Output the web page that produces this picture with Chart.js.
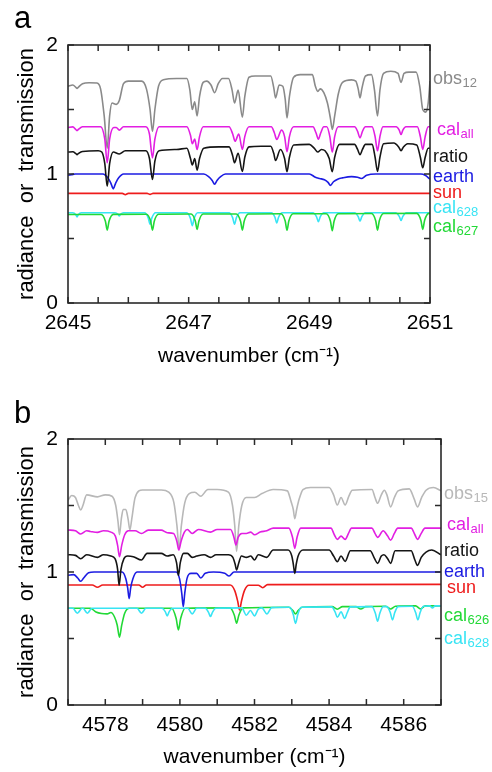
<!DOCTYPE html>
<html><head><meta charset="utf-8">
<script src="https://cdn.jsdelivr.net/npm/chart.js@4.4.1/dist/chart.umd.min.js"></script>
<style>
html,body{margin:0;padding:0;background:#fff;width:492px;height:772px;overflow:hidden}
.panel{position:absolute;left:0;width:492px}
#pa{top:0;height:385px}
#pb{top:385px;height:387px}
canvas{display:block}
</style></head><body>
<div class="panel" id="pa"><canvas id="ca" width="492" height="385"></canvas></div>
<div class="panel" id="pb"><canvas id="cb" width="492" height="387"></canvas></div>
<script>
// ---------- Panel a data: [wavenumber, value] ----------
const obs12 = [[2645,1.68],[2645.08,1.69],[2645.13,1.672],[2645.15,1.663],[2645.17,1.672],[2645.24,1.70],[2645.35,1.707],[2645.48,1.705],[2645.54,1.66],[2645.6,1.45],[2645.65,1.2],[2645.69,1.45],[2645.73,1.55],[2645.8,1.54],[2645.85,1.57],[2645.92,1.7],[2646.0,1.72],[2646.22,1.72],[2646.3,1.66],[2646.36,1.5],[2646.4,1.33],[2646.44,1.5],[2646.5,1.68],[2646.58,1.73],[2646.8,1.74],[2646.97,1.74],[2647.02,1.65],[2647.06,1.5],[2647.1,1.56],[2647.14,1.45],[2647.18,1.6],[2647.24,1.71],[2647.3,1.72],[2647.37,1.69],[2647.43,1.63],[2647.49,1.7],[2647.56,1.74],[2647.66,1.74],[2647.72,1.65],[2647.76,1.55],[2647.82,1.65],[2647.89,1.44],[2647.93,1.6],[2648.0,1.75],[2648.1,1.76],[2648.36,1.76],[2648.41,1.67],[2648.44,1.59],[2648.5,1.69],[2648.56,1.68],[2648.6,1.58],[2648.63,1.435],[2648.67,1.6],[2648.74,1.75],[2648.85,1.77],[2649.05,1.77],[2649.1,1.68],[2649.14,1.64],[2649.18,1.66],[2649.24,1.63],[2649.3,1.55],[2649.35,1.43],[2649.38,1.345],[2649.42,1.45],[2649.48,1.62],[2649.55,1.71],[2649.7,1.73],[2649.77,1.72],[2649.81,1.66],[2649.84,1.59],[2649.87,1.66],[2649.93,1.76],[2650.03,1.77],[2650.08,1.65],[2650.13,1.45],[2650.17,1.65],[2650.23,1.78],[2650.35,1.797],[2650.47,1.78],[2650.52,1.71],[2650.57,1.78],[2650.65,1.79],[2650.77,1.79],[2650.83,1.68],[2650.88,1.5],[2650.93,1.48],[2650.97,1.55],[2651,1.72]];
const calAllA = [[2645,1.36],[2645.08,1.365],[2645.13,1.345],[2645.15,1.337],[2645.17,1.345],[2645.24,1.366],[2645.54,1.366],[2645.61,1.27],[2645.65,1.087],[2645.69,1.27],[2645.76,1.36],[2645.8,1.36],[2645.85,1.34],[2645.92,1.366],[2646.29,1.366],[2646.35,1.31],[2646.4,1.125],[2646.44,1.27],[2646.51,1.366],[2646.97,1.366],[2647.03,1.3],[2647.06,1.234],[2647.1,1.27],[2647.14,1.19],[2647.18,1.29],[2647.24,1.366],[2647.67,1.366],[2647.73,1.31],[2647.77,1.254],[2647.83,1.31],[2647.89,1.19],[2647.93,1.29],[2648.0,1.366],[2648.37,1.366],[2648.42,1.32],[2648.46,1.267],[2648.54,1.34],[2648.59,1.29],[2648.63,1.172],[2648.67,1.29],[2648.74,1.366],[2649.06,1.366],[2649.11,1.32],[2649.15,1.27],[2649.19,1.32],[2649.24,1.366],[2649.29,1.366],[2649.34,1.29],[2649.38,1.17],[2649.42,1.29],[2649.48,1.366],[2649.75,1.366],[2649.8,1.33],[2649.84,1.28],[2649.88,1.33],[2649.93,1.366],[2650.04,1.366],[2650.09,1.29],[2650.13,1.18],[2650.17,1.29],[2650.22,1.366],[2650.44,1.366],[2650.49,1.34],[2650.52,1.306],[2650.55,1.34],[2650.6,1.366],[2650.79,1.366],[2650.84,1.29],[2650.88,1.19],[2650.92,1.29],[2650.97,1.366],[2651,1.366]];
const ratioA = [[2645,1.17],[2645.08,1.172],[2645.13,1.158],[2645.15,1.15],[2645.17,1.158],[2645.24,1.175],[2645.5,1.18],[2645.56,1.17],[2645.61,1.08],[2645.65,0.905],[2645.69,1.08],[2645.75,1.17],[2645.85,1.155],[2645.95,1.18],[2646.29,1.18],[2646.35,1.12],[2646.4,0.957],[2646.44,1.1],[2646.51,1.18],[2646.8,1.19],[2646.97,1.2],[2647.03,1.12],[2647.06,1.07],[2647.1,1.12],[2647.14,1.03],[2647.18,1.12],[2647.25,1.2],[2647.5,1.21],[2647.67,1.21],[2647.73,1.14],[2647.76,1.087],[2647.82,1.16],[2647.89,1.02],[2647.93,1.13],[2648.0,1.21],[2648.2,1.215],[2648.36,1.215],[2648.41,1.16],[2648.44,1.105],[2648.52,1.19],[2648.59,1.12],[2648.63,1.017],[2648.67,1.13],[2648.74,1.225],[2649.0,1.23],[2649.08,1.2],[2649.14,1.17],[2649.2,1.19],[2649.26,1.18],[2649.33,1.12],[2649.38,1.017],[2649.42,1.13],[2649.5,1.23],[2649.75,1.23],[2649.8,1.19],[2649.84,1.15],[2649.88,1.19],[2649.93,1.23],[2650.04,1.23],[2650.09,1.13],[2650.13,1.02],[2650.17,1.13],[2650.23,1.235],[2650.4,1.24],[2650.48,1.21],[2650.52,1.18],[2650.56,1.21],[2650.63,1.235],[2650.78,1.225],[2650.84,1.13],[2650.88,1.048],[2650.92,1.13],[2650.97,1.2],[2651,1.2]];
const earthA = [[2645,0.99],[2645.06,0.995],[2645.12,1.0],[2645.58,1.0],[2645.66,0.97],[2645.71,0.93],[2645.75,0.885],[2645.79,0.93],[2645.84,0.97],[2645.92,1.0],[2647.25,1.0],[2647.33,0.98],[2647.39,0.95],[2647.43,0.92],[2647.47,0.95],[2647.53,0.98],[2647.61,1.0],[2649.0,1.0],[2649.1,0.975],[2649.17,0.965],[2649.25,0.955],[2649.31,0.935],[2649.35,0.912],[2649.4,0.94],[2649.47,0.96],[2649.55,0.97],[2649.7,0.98],[2649.8,0.975],[2649.86,0.965],[2649.95,0.99],[2650.1,1.0],[2650.85,1.0],[2650.92,0.99],[2651,0.96]];
const sunA = [[2645,0.85],[2645.9,0.85],[2645.95,0.84],[2646.0,0.85],[2646.31,0.85],[2646.36,0.842],[2646.41,0.85],[2651,0.85]];
const cal628A = [[2645,0.70],[2645.08,0.70],[2645.13,0.685],[2645.15,0.668],[2645.17,0.685],[2645.22,0.70],[2645.78,0.70],[2645.83,0.688],[2645.85,0.675],[2645.87,0.688],[2645.92,0.70],[2646.27,0.70],[2646.33,0.66],[2646.36,0.61],[2646.39,0.66],[2646.45,0.70],[2646.97,0.70],[2647.03,0.655],[2647.06,0.60],[2647.09,0.655],[2647.15,0.70],[2647.67,0.70],[2647.73,0.66],[2647.76,0.61],[2647.79,0.66],[2647.85,0.70],[2648.37,0.70],[2648.43,0.665],[2648.46,0.62],[2648.49,0.665],[2648.55,0.70],[2649.06,0.70],[2649.12,0.668],[2649.15,0.63],[2649.18,0.668],[2649.24,0.70],[2649.75,0.70],[2649.81,0.67],[2649.84,0.635],[2649.87,0.67],[2649.93,0.70],[2650.43,0.70],[2650.49,0.672],[2650.52,0.64],[2650.55,0.672],[2650.61,0.70],[2651,0.70]];
const cal627A = [[2645,0.686],[2645.55,0.686],[2645.62,0.633],[2645.65,0.565],[2645.68,0.633],[2645.75,0.687],[2646.3,0.688],[2646.37,0.634],[2646.4,0.565],[2646.43,0.634],[2646.5,0.688],[2647.04,0.69],[2647.11,0.636],[2647.14,0.57],[2647.17,0.636],[2647.24,0.69],[2647.79,0.69],[2647.86,0.634],[2647.89,0.565],[2647.92,0.634],[2647.99,0.69],[2648.53,0.692],[2648.6,0.636],[2648.63,0.565],[2648.66,0.636],[2648.73,0.692],[2649.28,0.692],[2649.35,0.634],[2649.38,0.56],[2649.41,0.634],[2649.48,0.692],[2650.03,0.694],[2650.1,0.638],[2650.13,0.565],[2650.16,0.638],[2650.23,0.694],[2650.78,0.695],[2650.85,0.64],[2650.88,0.57],[2650.91,0.64],[2650.98,0.695],[2651,0.695]];

// ---------- Panel b data ----------
const obs15 = [[4577,1.54],[4577.1,1.575],[4577.2,1.56],[4577.28,1.5],[4577.34,1.466],[4577.4,1.5],[4577.5,1.58],[4577.79,1.565],[4578.0,1.58],[4578.18,1.57],[4578.28,1.5],[4578.34,1.38],[4578.38,1.28],[4578.43,1.4],[4578.48,1.47],[4578.55,1.47],[4578.61,1.4],[4578.66,1.316],[4578.71,1.4],[4578.8,1.56],[4579.0,1.617],[4579.5,1.617],[4579.7,1.6],[4579.84,1.52],[4579.92,1.35],[4579.98,1.18],[4580.04,1.35],[4580.13,1.52],[4580.25,1.59],[4580.4,1.6],[4580.56,1.57],[4580.75,1.62],[4581.0,1.62],[4581.3,1.6],[4581.41,1.5],[4581.47,1.35],[4581.52,1.155],[4581.58,1.35],[4581.66,1.5],[4581.78,1.56],[4582.0,1.56],[4582.2,1.59],[4582.5,1.62],[4582.88,1.61],[4582.98,1.53],[4583.04,1.47],[4583.08,1.40],[4583.13,1.47],[4583.2,1.55],[4583.3,1.62],[4583.5,1.635],[4584.0,1.635],[4584.12,1.58],[4584.22,1.504],[4584.32,1.56],[4584.43,1.504],[4584.53,1.57],[4584.62,1.615],[4585.15,1.62],[4585.23,1.56],[4585.3,1.517],[4585.4,1.58],[4585.48,1.615],[4585.55,1.58],[4585.65,1.49],[4585.75,1.56],[4585.85,1.61],[4586.15,1.625],[4586.28,1.55],[4586.37,1.49],[4586.48,1.56],[4586.6,1.615],[4586.8,1.635],[4587,1.61]];
const calAllB = [[4577,1.316],[4577.2,1.31],[4577.34,1.286],[4577.5,1.31],[4577.6,1.305],[4577.79,1.298],[4577.95,1.31],[4578.15,1.3],[4578.27,1.27],[4578.33,1.2],[4578.38,1.115],[4578.44,1.2],[4578.52,1.28],[4578.62,1.31],[4578.8,1.31],[4578.97,1.29],[4579.15,1.315],[4579.5,1.315],[4579.66,1.295],[4579.83,1.29],[4579.92,1.23],[4579.97,1.165],[4580.03,1.23],[4580.12,1.3],[4580.2,1.32],[4580.33,1.29],[4580.5,1.32],[4580.82,1.3],[4581.0,1.32],[4581.36,1.32],[4581.45,1.26],[4581.5,1.203],[4581.56,1.26],[4581.66,1.29],[4581.78,1.29],[4581.9,1.3],[4582.0,1.28],[4582.15,1.3],[4582.33,1.31],[4582.5,1.33],[4582.92,1.33],[4583.02,1.26],[4583.08,1.178],[4583.14,1.26],[4583.24,1.33],[4584.05,1.33],[4584.14,1.28],[4584.22,1.245],[4584.32,1.27],[4584.43,1.245],[4584.52,1.29],[4584.6,1.33],[4585.15,1.33],[4585.23,1.29],[4585.3,1.26],[4585.45,1.31],[4585.57,1.27],[4585.65,1.24],[4585.75,1.29],[4585.84,1.33],[4586.2,1.33],[4586.3,1.28],[4586.37,1.245],[4586.47,1.29],[4586.57,1.33],[4587,1.33]];
const ratioB = [[4577,1.13],[4577.2,1.125],[4577.34,1.10],[4577.5,1.13],[4577.79,1.11],[4577.95,1.13],[4578.15,1.12],[4578.26,1.1],[4578.33,1.02],[4578.37,0.90],[4578.42,1.02],[4578.5,1.1],[4578.6,1.12],[4578.75,1.115],[4578.97,1.09],[4579.12,1.14],[4579.5,1.14],[4579.66,1.12],[4579.82,1.13],[4579.91,1.07],[4579.96,0.975],[4580.01,1.07],[4580.1,1.14],[4580.2,1.14],[4580.33,1.11],[4580.45,1.12],[4580.65,1.13],[4580.82,1.11],[4580.97,1.13],[4581.3,1.13],[4581.42,1.11],[4581.48,1.06],[4581.52,1.015],[4581.57,1.06],[4581.65,1.12],[4581.78,1.11],[4581.9,1.12],[4582.0,1.09],[4582.1,1.13],[4582.33,1.11],[4582.5,1.165],[4582.9,1.165],[4583.0,1.12],[4583.04,1.06],[4583.08,0.99],[4583.12,1.06],[4583.17,1.12],[4583.3,1.165],[4584.0,1.165],[4584.12,1.12],[4584.22,1.077],[4584.32,1.12],[4584.43,1.08],[4584.57,1.16],[4585.1,1.16],[4585.22,1.1],[4585.3,1.065],[4585.4,1.12],[4585.47,1.13],[4585.57,1.1],[4585.65,1.065],[4585.77,1.16],[4586.2,1.16],[4586.3,1.09],[4586.37,1.05],[4586.47,1.11],[4586.6,1.15],[4586.75,1.165],[4587,1.13]];
const earthB = [[4577,0.975],[4577.15,0.98],[4577.26,0.955],[4577.34,0.93],[4577.42,0.955],[4577.55,0.995],[4577.7,1.0],[4578.45,1.0],[4578.55,0.95],[4578.6,0.88],[4578.64,0.80],[4578.68,0.88],[4578.74,0.95],[4578.85,1.0],[4579.9,1.0],[4579.99,0.95],[4580.05,0.84],[4580.09,0.74],[4580.13,0.84],[4580.19,0.95],[4580.3,0.99],[4580.45,0.99],[4580.56,0.955],[4580.68,0.99],[4580.9,1.0],[4581.2,0.99],[4581.32,0.97],[4581.45,1.0],[4587,1.0]];
const sunB = [[4577,0.902],[4577.65,0.902],[4577.79,0.885],[4577.93,0.902],[4578.9,0.902],[4579.0,0.885],[4579.1,0.902],[4581.35,0.902],[4581.47,0.86],[4581.55,0.78],[4581.6,0.714],[4581.65,0.78],[4581.73,0.86],[4581.85,0.9],[4582.1,0.9],[4582.22,0.882],[4582.35,0.905],[4587,0.907]];
const cal626B = [[4577,0.727],[4577.6,0.727],[4577.75,0.7],[4577.9,0.688],[4578.05,0.685],[4578.15,0.695],[4578.25,0.66],[4578.32,0.6],[4578.38,0.51],[4578.44,0.6],[4578.52,0.69],[4578.65,0.727],[4579.78,0.727],[4579.9,0.65],[4579.96,0.565],[4580.02,0.65],[4580.14,0.727],[4581.35,0.73],[4581.46,0.675],[4581.52,0.615],[4581.58,0.675],[4581.69,0.73],[4582.92,0.735],[4583.03,0.71],[4583.1,0.685],[4583.17,0.71],[4583.28,0.735],[4584.08,0.74],[4584.22,0.72],[4584.36,0.74],[4584.72,0.74],[4584.85,0.722],[4584.98,0.74],[4585.52,0.742],[4585.65,0.722],[4585.78,0.742],[4586.32,0.745],[4586.45,0.722],[4586.58,0.745],[4587,0.745]];
const cal628B = [[4577,0.727],[4577.13,0.727],[4577.25,0.69],[4577.38,0.727],[4577.4,0.727],[4577.52,0.69],[4577.64,0.727],[4578.85,0.727],[4578.97,0.69],[4579.09,0.727],[4579.52,0.727],[4579.61,0.7],[4579.66,0.67],[4579.71,0.7],[4579.8,0.727],[4580.21,0.727],[4580.33,0.685],[4580.45,0.727],[4580.68,0.727],[4580.77,0.695],[4580.82,0.665],[4580.87,0.695],[4580.96,0.727],[4581.66,0.73],[4581.78,0.675],[4581.89,0.71],[4582.0,0.67],[4582.1,0.72],[4582.2,0.73],[4582.33,0.685],[4582.46,0.732],[4582.95,0.735],[4583.04,0.68],[4583.1,0.614],[4583.16,0.68],[4583.25,0.735],[4584.07,0.738],[4584.16,0.7],[4584.22,0.66],[4584.32,0.7],[4584.42,0.65],[4584.48,0.69],[4584.57,0.738],[4585.15,0.74],[4585.24,0.69],[4585.3,0.63],[4585.36,0.69],[4585.45,0.74],[4585.55,0.74],[4585.64,0.695],[4585.7,0.64],[4585.76,0.695],[4585.85,0.74],[4586.23,0.742],[4586.32,0.695],[4586.38,0.64],[4586.44,0.695],[4586.53,0.742],[4586.7,0.745],[4586.77,0.73],[4586.84,0.745],[4587,0.745]];

// ---------- Labels ----------
const namesA = ['obs','cal','ratio','earth','sun','cal','cal'];
const subsA  = ['12','all','','','','628','627'];
const labelAtA = [1.748,1.345,1.143,0.988,0.859,0.748,0.60];
const namesB = ['obs','cal','ratio','earth','sun','cal','cal'];
const subsB  = ['15','all','','','','626','628'];
const labelAtB = [1.594,1.361,1.165,1.008,0.887,0.677,0.504];
const xTicksA = [2645,2647,2649,2651];
const xTicksB = [4578,4580,4582,4584,4586];
const yTickLabels = [0,1,2];

const FONT = "'Liberation Sans', Arial, Helvetica, sans-serif";
const C = {gray:'#8a8a8a', lgray:'#b8b8b8', mag:'#e21fe2', blk:'#151515', blue:'#1c1ce2', red:'#ee1c1c', cyan:'#38e4f4', green:'#22d936'};

const pts = arr => arr.map(p => ({x:p[0], y:p[1]}));

const framePlugin = {
  id:'frameLabels',
  afterDraw(chart, args, o) {
    const ctx = chart.ctx, ca = chart.chartArea, xs = chart.scales.x, ys = chart.scales.y;
    ctx.save();
    ctx.strokeStyle = '#2a2a2a'; ctx.lineWidth = 1.6;
    ctx.strokeRect(ca.left, ca.top, ca.right-ca.left, ca.bottom-ca.top);
    ctx.lineWidth = 1.5;
    ctx.beginPath();
    xs.ticks.forEach(t => { const p = xs.getPixelForValue(t.value);
      ctx.moveTo(p, ca.bottom); ctx.lineTo(p, ca.bottom-6);
      ctx.moveTo(p, ca.top); ctx.lineTo(p, ca.top+6); });
    ys.ticks.forEach(t => { const p = ys.getPixelForValue(t.value);
      ctx.moveTo(ca.left, p); ctx.lineTo(ca.left+6, p);
      ctx.moveTo(ca.right, p); ctx.lineTo(ca.right-6, p); });
    ctx.stroke();
    ctx.textBaseline = 'alphabetic'; ctx.textAlign = 'left';
    o.names.forEach((n,i) => {
      const py = ys.getPixelForValue(o.at[i]) + 6;
      const px = ca.right + o.dx[i];
      ctx.fillStyle = o.colors[i];
      ctx.font = '18px ' + FONT;
      ctx.fillText(n, px, py);
      if (o.subs[i]) {
        const w = ctx.measureText(n).width;
        ctx.font = '13px ' + FONT;
        ctx.fillText(o.subs[i], px + w + 0.5, py + 3);
      }
    });
    ctx.fillStyle = '#000'; ctx.font = '31px ' + FONT;
    ctx.fillText(o.letter, 14, o.letterY);
    ctx.restore();
  }
};

function ds(data, color, order, w) {
  return {data: pts(data), borderColor: color, backgroundColor: color, borderWidth: w || 1.6,
    pointRadius: 0, showLine: true, fill: false, cubicInterpolationMode: 'monotone', order: order};
}

function makeChart(id, cfg) {
  return new Chart(document.getElementById(id), {
    type: 'scatter',
    data: {datasets: cfg.datasets},
    options: {
      responsive: false, animation: false, events: [],
      layout: {padding: {left: 0, right: cfg.right, top: cfg.top, bottom: 0}},
      plugins: {legend: {display: false}, tooltip: {enabled: false}, frameLabels: cfg.labels},
      scales: {
        x: {type: 'linear', min: cfg.xmin, max: cfg.xmax,
            afterFit: s => { s.height = cfg.xh; },
            grid: {display: false, drawTicks: false}, border: {display: false},
            ticks: {stepSize: cfg.xstep, autoSkip: false, maxRotation: 0, padding: 8,
                    color: '#000', font: {family: FONT, size: 21},
                    callback: v => cfg.xLabels.includes(Math.round(v*1000)/1000) ? String(v) : ''},
            title: {display: true, text: 'wavenumber (cm\u207B\u00B9)', color: '#000',
                    font: {family: FONT, size: 21}, padding: {top: 0, bottom: cfg.xtp}}},
        y: {type: 'linear', min: 0, max: 2,
            afterFit: s => { s.width = 68; },
            grid: {display: false, drawTicks: false}, border: {display: false},
            ticks: {stepSize: 0.5, autoSkip: false, padding: 10, color: '#000',
                    font: {family: FONT, size: 21},
                    callback: v => yTickLabels.includes(v) ? String(v) : ''},
            title: {display: true, text: 'radiance  or  transmission', color: '#000',
                    font: {family: FONT, size: 22}, padding: {top: 14, bottom: 0}}}
      }
    },
    plugins: [framePlugin]
  });
}

makeChart('ca', {
  xmin: 2645, xmax: 2651, xstep: 0.5, xLabels: xTicksA, right: 62, top: 45, xh: 82, xtp: 16,
  datasets: [
    ds(ratioA, C.blk, 1), ds(cal627A, C.green, 2), ds(cal628A, C.cyan, 3), ds(earthA, C.blue, 4),
    ds(sunA, C.red, 5), ds(calAllA, C.mag, 6), ds(obs12, C.gray, 7)
  ],
  labels: {names: namesA, subs: subsA, at: labelAtA, dx: [3,7,3,3,3,3,3],
    colors: [C.gray, C.mag, C.blk, C.blue, C.red, C.cyan, C.green], letter: 'a', letterY: 28}
});

makeChart('cb', {
  xmin: 4577, xmax: 4587, xstep: 1, xLabels: xTicksB, right: 51, top: 54, xh: 67, xtp: 2,
  datasets: [
    ds(ratioB, C.blk, 1), ds(cal628B, C.cyan, 2), ds(cal626B, C.green, 3), ds(earthB, C.blue, 4),
    ds(sunB, C.red, 5), ds(calAllB, C.mag, 6), ds(obs15, C.lgray, 7)
  ],
  labels: {names: namesB, subs: subsB, at: labelAtB, dx: [3,6,3,3,6,3,3],
    colors: [C.lgray, C.mag, C.blk, C.blue, C.red, C.green, C.cyan], letter: 'b', letterY: 38}
});
</script>
</body></html>
